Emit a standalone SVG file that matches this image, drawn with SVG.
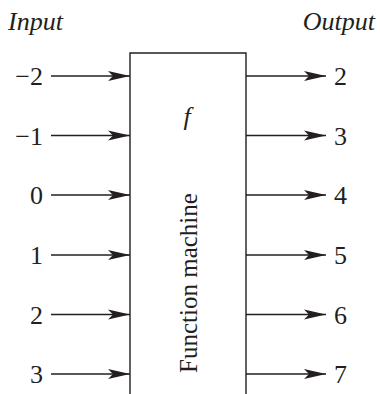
<svg xmlns="http://www.w3.org/2000/svg" width="380" height="394" viewBox="0 0 380 394">
<style>
text{font-family:"Liberation Serif","Times New Roman",serif;fill:#231f20;font-size:26px}
.it{font-style:italic}
.ln{stroke:#231f20;stroke-width:1.4;fill:none}
</style>
<defs>
<marker id="ah" markerUnits="userSpaceOnUse" markerWidth="24" markerHeight="12" refX="22" refY="6" orient="auto" viewBox="0 0 24 12">
<path d="M0,1 L22,6 L0,11 L5,6 Z" fill="#231f20"/>
</marker>
</defs>
<rect width="380" height="394" fill="#fff"/>
<text class="it" x="8" y="30">Input</text>
<text class="it" x="375" y="30" text-anchor="end">Output</text>
<g id="machine">
<path class="ln" d="M130,394 V53 H246 V394"/>
<text class="it" x="187" y="125" text-anchor="middle">f</text>
<text transform="translate(197,283) rotate(-90)" text-anchor="middle" style="font-size:25px">Function machine</text>
</g>
<g id="inputs">
<text x="43" y="85" text-anchor="end">−2</text>
<text x="43" y="144.5" text-anchor="end">−1</text>
<text x="43" y="204" text-anchor="end">0</text>
<text x="43" y="264" text-anchor="end">1</text>
<text x="43" y="323.5" text-anchor="end">2</text>
<text x="43" y="383" text-anchor="end">3</text>
</g>
<g id="outputs">
<text x="334" y="85">2</text>
<text x="334" y="144.5">3</text>
<text x="334" y="204">4</text>
<text x="334" y="264">5</text>
<text x="334" y="323.5">6</text>
<text x="334" y="383">7</text>
</g>
<g id="connectors">
<path class="ln" marker-end="url(#ah)" d="M51,76 H130"/>
<path class="ln" marker-end="url(#ah)" d="M51,135.5 H130"/>
<path class="ln" marker-end="url(#ah)" d="M51,195 H130"/>
<path class="ln" marker-end="url(#ah)" d="M51,255 H130"/>
<path class="ln" marker-end="url(#ah)" d="M51,314.5 H130"/>
<path class="ln" marker-end="url(#ah)" d="M51,374 H130"/>
<path class="ln" marker-end="url(#ah)" d="M246,76 H326"/>
<path class="ln" marker-end="url(#ah)" d="M246,135.5 H326"/>
<path class="ln" marker-end="url(#ah)" d="M246,195 H326"/>
<path class="ln" marker-end="url(#ah)" d="M246,255 H326"/>
<path class="ln" marker-end="url(#ah)" d="M246,314.5 H326"/>
<path class="ln" marker-end="url(#ah)" d="M246,374 H326"/>
</g>
</svg>
